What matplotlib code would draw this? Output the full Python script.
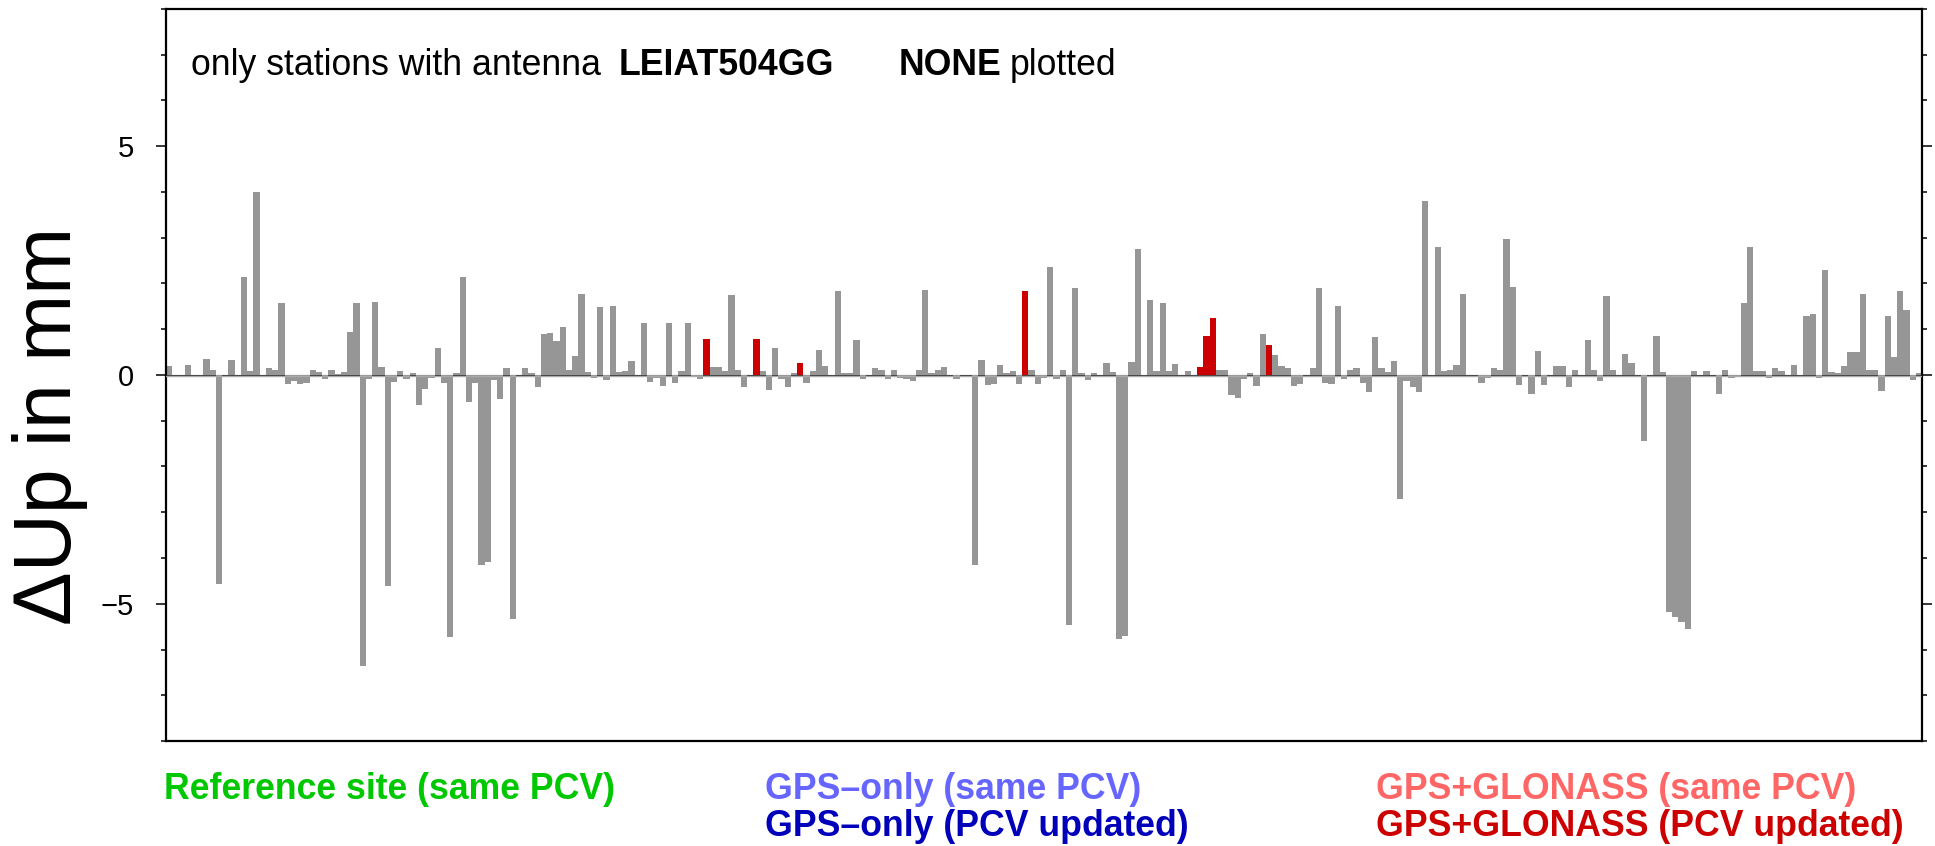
import matplotlib.pyplot as plt
from matplotlib.ticker import MultipleLocator, FixedLocator, FixedFormatter
from matplotlib.transforms import offset_copy

# Delta Up per station (mm), left to right
d_up = [
    0.19, 0, 0, 0.21, 0, 0, 0.34, 0.12, -4.57, 0,
    0.32, 0, 2.14, 0.08, 4.00, 0, 0.15, 0.10, 1.57, -0.20,
    -0.13, -0.20, -0.17, 0.10, 0.06, -0.09, 0.10, 0.03, 0.06, 0.93,
    1.57, -6.35, -0.09, 1.59, 0.17, -4.61, -0.15, 0.08, -0.09, 0.04,
    -0.66, -0.31, -0.06, 0.58, -0.17, -5.73, 0.04, 2.14, -0.59, -0.17,
    -4.15, -4.09, -0.12, -0.52, 0.15, -5.34, 0, 0.15, 0.04, -0.26,
    0.89, 0.91, 0.74, 1.04, 0.12, 0.41, 1.76, 0.06, -0.07, 1.48,
    -0.11, 1.50, 0.06, 0.08, 0.30, 0, 1.13, -0.15, -0.07, -0.24,
    1.13, -0.17, 0.08, 1.13, -0.04, -0.09, 0.78, 0.17, 0.17, 0.08,
    1.74, 0.12, -0.26, 0, 0.78, 0.08, -0.33, 0.60, -0.09, -0.26,
    0.04, 0.26, -0.17, 0.08, 0.54, 0.19, 0, 1.83, 0.04, 0.04,
    0.76, -0.09, 0, 0.15, 0.10, -0.09, 0.12, -0.07, -0.09, -0.13,
    0.10, 1.85, 0.04, 0.12, 0.17, 0, -0.09, 0, 0, -4.15,
    0.32, -0.22, -0.20, 0.21, 0.04, 0.08, -0.20, 1.83, 0.10, -0.20,
    -0.07, 2.35, -0.09, 0.12, -5.47, 1.90, 0.04, -0.11, 0.04, 0,
    0.26, 0.06, -5.77, -5.71, 0.28, 2.75, 0, 1.65, 0.08, 1.57,
    0.08, 0.23, 0, 0.08, 0, 0.17, 0.85, 1.24, 0.10, 0.10,
    -0.44, -0.50, -0.09, 0.04, -0.24, 0.89, 0.65, 0.43, 0.19, 0.15,
    -0.24, -0.20, 0, 0.15, 1.90, -0.17, -0.20, 1.50, -0.09, 0.10,
    0.15, -0.17, -0.37, 0.82, 0.15, 0.06, 0.30, -2.71, -0.13, -0.26,
    -0.37, 3.80, 0, 2.79, 0.08, 0.10, 0.21, 1.76, 0, 0,
    -0.17, -0.07, 0.15, 0.12, 2.97, 1.92, -0.22, 0, -0.42, 0.52,
    -0.22, 0, 0.19, 0.19, -0.26, 0.10, 0, 0.76, 0.10, -0.13,
    1.72, 0.10, 0, 0.45, 0.26, 0, -1.44, 0, 0.85, 0.06,
    -5.18, -5.29, -5.40, -5.55, 0.08, 0, 0.08, 0, -0.42, 0.10,
    -0.07, -0.04, 1.57, 2.79, 0.08, 0.08, -0.07, 0.15, 0.08, 0,
    0.21, 0, 1.28, 1.33, -0.07, 2.29, 0.06, 0.04, 0.19, 0.50,
    0.50, 1.76, 0.10, 0.10, -0.35, 1.28, 0.39, 1.83, 1.41, -0.11,
    0.04,
]

# stations (0-based) that are GPS+GLONASS with updated PCV
glonass_updated = [86, 94, 101, 137, 165, 166, 167, 176]

y_ticks = [-5, 0, 5]
y_ticklabels = ['\u22125', '0', '5']

GREY = '#969696'
DARKRED = '#cc0000'

plt.rcParams['font.family'] = ['Liberation Sans', 'DejaVu Sans']

W, H = 1935, 846
fig = plt.figure(figsize=(W / 100, H / 100), dpi=100)
ax = fig.add_axes([166 / W, 1 - 741 / H, (1922 - 166) / W, (741 - 9) / H])

x = list(range(1, len(d_up) + 1))
colors = [DARKRED if i in glonass_updated else GREY for i in range(len(d_up))]
ax.bar(x, d_up, width=1.0, color=colors, linewidth=0, zorder=2)

# zero line: dark line with a light grey line just below
ax.plot([0.5, len(d_up) + 0.5], [0, 0], color='#333333', lw=0.8, zorder=1)
ax.plot([0.5, len(d_up) + 0.5], [0, 0], color='#aaaaaa', lw=1.0, zorder=3,
        transform=offset_copy(ax.transData, fig=fig, y=-1.5, units='dots'))

ax.set_xlim(0.5, len(d_up) + 0.5)
ax.set_ylim(-8, 8)
ax.set_xticks([])
ax.yaxis.set_major_locator(FixedLocator(y_ticks))
ax.yaxis.set_major_formatter(FixedFormatter(y_ticklabels))
ax.yaxis.set_minor_locator(MultipleLocator(1))
ax.tick_params(axis='y', which='both', direction='out', left=True, right=True,
               labelleft=True, labelright=False, width=1.1, labelsize=21, pad=16)
ax.tick_params(axis='y', which='major', length=7.2)
ax.tick_params(axis='y', which='minor', length=3.6)
for s in ax.spines.values():
    s.set_linewidth(1.6)

fig.text(50 / W, 0.4965, '\u0394Up in mm', rotation=90, ha='center', va='center', fontsize=58)

# header text
yb = 1 - 75 / H
fs_head = 25.7
fig.text(191 / W, yb, 'only stations with antenna', fontsize=fs_head, va='baseline')
fig.text(619 / W, yb, 'LEIAT504GG', fontsize=fs_head, fontweight='bold', va='baseline')
fig.text(899 / W, yb, 'NONE', fontsize=fs_head, fontweight='bold', va='baseline')
fig.text(1010 / W, yb, 'plotted', fontsize=fs_head, va='baseline')

# legend text below the axes
y1 = 1 - 799 / H
y2 = 1 - 836 / H
kw = dict(fontsize=25.7, fontweight='bold', va='baseline')
fig.text(164 / W, y1, 'Reference site (same PCV)', color='#00c800', **kw)
fig.text(765 / W, y1, 'GPS\u2013only (same PCV)', color='#6666ff', **kw)
fig.text(765 / W, y2, 'GPS\u2013only (PCV updated)', color='#0000bb', **kw)
fig.text(1376 / W, y1, 'GPS+GLONASS (same PCV)', color='#ff6666', **kw)
fig.text(1376 / W, y2, 'GPS+GLONASS (PCV updated)', color=DARKRED, **kw)

fig.savefig('out.png', dpi=100)
